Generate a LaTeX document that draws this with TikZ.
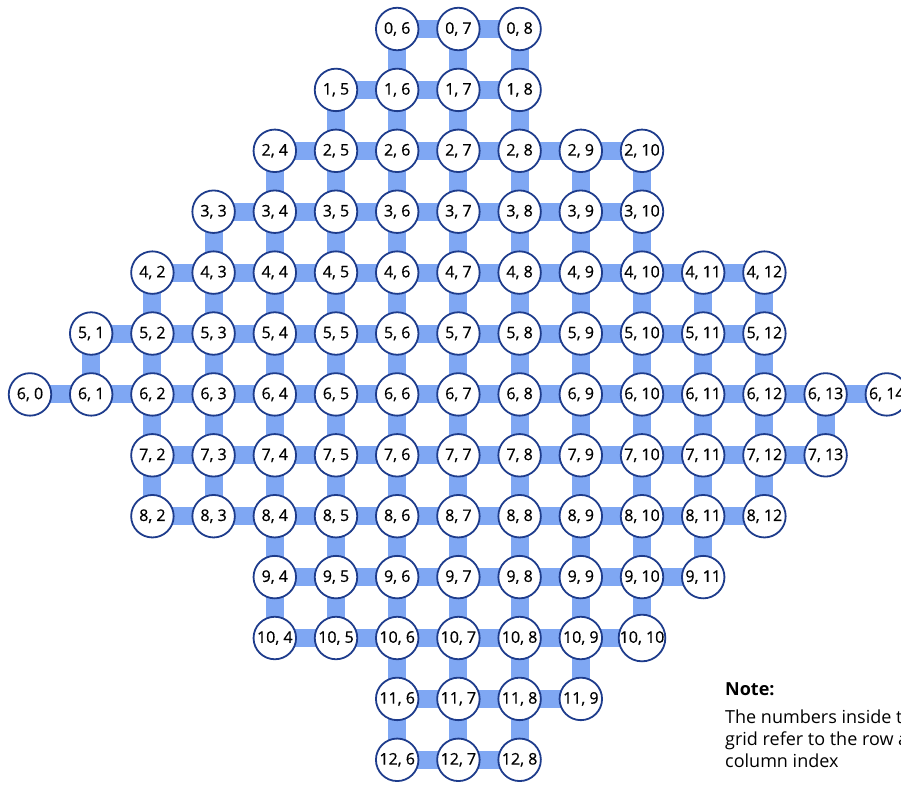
\documentclass[tikz,border=0pt]{standalone}
\usepackage{fontspec}
\setmainfont{Open Sans}
\newfontfamily\cellfont[FakeBold=0.6]{Open Sans}
\usetikzlibrary{backgrounds, positioning}
\definecolor{linkblue}{RGB}{127,167,243}
\definecolor{ringblue}{RGB}{30,60,140}

\begin{document}
\begin{tikzpicture}[
    x=1pt, y=-1pt,
    cell/.style={circle, draw=ringblue, line width=1.8pt, fill=white, minimum size=42.5pt, inner sep=0pt, font=\cellfont\fontsize{16}{16}\selectfont},
    link/.style={linkblue, line width=18pt},
    note/.style={inner sep=0pt, align=left, font=\fontsize{18}{22}\selectfont},
]
\useasboundingbox (0,0) rectangle (901,785);

% Cells: row / first column / last column
\foreach \r/\a/\b in {0/6/8, 1/5/8, 2/4/10, 3/3/10, 4/2/12, 5/1/12, 6/0/14, 7/2/13, 8/2/12, 9/4/11, 10/4/10, 11/6/9, 12/6/8}{
  \foreach \c in {\a,...,\b}{
    \node[cell] (n-\r-\c) at ({30+61.2*\c},{29+60.9*\r}) {\r, \c};
  }
}

\begin{scope}[on background layer]
% Links along each row
\foreach \r/\a/\b in {0/6/8, 1/5/8, 2/4/10, 3/3/10, 4/2/12, 5/1/12, 6/0/14, 7/2/13, 8/2/12, 9/4/11, 10/4/10, 11/6/9, 12/6/8}{
  \pgfmathtruncatemacro\lastc{\b-1}
  \foreach \c in {\a,...,\lastc}{
    \pgfmathtruncatemacro\nextc{\c+1}
    \draw[link] (n-\r-\c.center) -- (n-\r-\nextc.center);
  }
}
% Links down to the next row
\foreach \r/\a/\b in {0/6/8, 1/5/8, 2/4/10, 3/3/10, 4/2/12, 5/1/12, 6/2/13, 7/2/12, 8/4/11, 9/4/10, 10/6/9, 11/6/8}{
  \pgfmathtruncatemacro\rowb{\r+1}
  \foreach \c in {\a,...,\b}{
    \draw[link] (n-\r-\c.center) -- (n-\rowb-\c.center);
  }
}
\end{scope}

% Note
\node[note, anchor=base west, font=\bfseries\fontsize{18}{22}\selectfont] (notehead) at (725,695) {Note:};
\node[note, below=14pt of notehead.south west, anchor=north west] (notebody) {The numbers inside the\\grid refer to the row and\\column index};

\end{tikzpicture}
\end{document}
